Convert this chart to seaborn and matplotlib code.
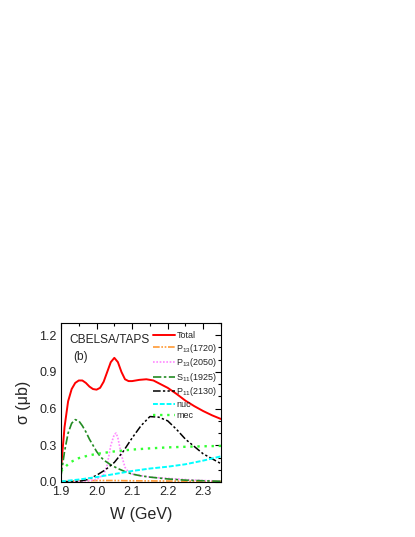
import numpy as np
import pandas as pd
import matplotlib
matplotlib.use("Agg")
import matplotlib.pyplot as plt
import seaborn as sns
from matplotlib.ticker import MultipleLocator

# ---------------------------------------
# Values
# ---------------------------------------

w_total = [1.900, 1.905, 1.910, 1.920, 1.930, 1.940, 1.950, 1.960, 1.970, 1.980,
           1.990, 2.000, 2.010, 2.020, 2.030, 2.040, 2.050, 2.060, 2.070, 2.080,
           2.090, 2.100, 2.120, 2.140, 2.160, 2.180, 2.200, 2.225, 2.250, 2.275,
           2.300, 2.325, 2.350]
sig_total = [0.10, 0.28, 0.45, 0.66, 0.76, 0.81, 0.83, 0.83, 0.81, 0.78,
             0.76, 0.755, 0.77, 0.82, 0.90, 0.98, 1.015, 0.98, 0.90, 0.84,
             0.825, 0.825, 0.835, 0.84, 0.83, 0.80, 0.77, 0.72, 0.665, 0.62,
             0.58, 0.545, 0.515]

w_p13a = [1.90, 1.95, 2.00, 2.05, 2.10, 2.20, 2.30, 2.35]
sig_p13a = [0.005, 0.010, 0.012, 0.012, 0.010, 0.008, 0.006, 0.005]

w_p13b = [1.900, 1.950, 1.975, 2.000, 2.020, 2.030, 2.040, 2.050, 2.055, 2.060,
          2.070, 2.080, 2.090, 2.100, 2.150, 2.200, 2.250, 2.300, 2.350]
sig_p13b = [0.0, 0.005, 0.01, 0.02, 0.06, 0.14, 0.30, 0.39, 0.40, 0.36,
            0.22, 0.12, 0.08, 0.065, 0.04, 0.03, 0.02, 0.012, 0.008]

w_s11 = [1.900, 1.910, 1.920, 1.930, 1.940, 1.950, 1.960, 1.970, 1.980, 1.990,
         2.000, 2.010, 2.020, 2.030, 2.040, 2.050, 2.060, 2.080, 2.100, 2.125,
         2.150, 2.200, 2.250, 2.300, 2.350]
sig_s11 = [0.05, 0.25, 0.40, 0.48, 0.51, 0.50, 0.46, 0.41, 0.35, 0.30,
           0.25, 0.21, 0.18, 0.16, 0.14, 0.125, 0.11, 0.085, 0.065, 0.05,
           0.04, 0.025, 0.015, 0.01, 0.006]

w_p11 = [1.900, 1.950, 1.975, 2.000, 2.025, 2.050, 2.075, 2.100, 2.125, 2.150,
         2.175, 2.200, 2.225, 2.250, 2.275, 2.300, 2.325, 2.350]
sig_p11 = [0.0, 0.005, 0.02, 0.055, 0.10, 0.16, 0.25, 0.36, 0.46, 0.535,
           0.53, 0.50, 0.43, 0.35, 0.29, 0.23, 0.19, 0.15]

w_nuc = [1.90, 1.95, 2.00, 2.05, 2.10, 2.15, 2.20, 2.25, 2.30, 2.35]
sig_nuc = [0.005, 0.02, 0.04, 0.065, 0.09, 0.11, 0.125, 0.145, 0.175, 0.21]

w_mec = [1.900, 1.925, 1.950, 1.975, 2.000, 2.050, 2.100, 2.150, 2.200, 2.250,
         2.300, 2.350]
sig_mec = [0.09, 0.16, 0.195, 0.215, 0.23, 0.25, 0.265, 0.275, 0.283, 0.288,
           0.292, 0.295]

# ---------------------------------------
# Plot
# ---------------------------------------

sns.set_style("white")
plt.rcParams["font.family"] = ["Liberation Sans", "DejaVu Sans"]
plt.rcParams["mathtext.fontset"] = "custom"
plt.rcParams["mathtext.rm"] = "Liberation Sans"

fig = plt.figure(figsize=(4.15, 5.37), dpi=100)
ax = fig.add_axes([61 / 415, 1 - 482 / 537, 160 / 415, 159 / 537])

series = [
    (w_total, sig_total, "Total", "#ff0000", "-", 1.4),
    (w_p13a, sig_p13a, "P$_{13}$(1720)", "#ff9933", (0, (4, 1, 1, 1, 1, 1)), 1.2),
    (w_p13b, sig_p13b, "P$_{13}$(2050)", "#ff88ff", (0, (1, 1)), 1.2),
    (w_s11, sig_s11, "S$_{11}$(1925)", "#228b22", (0, (5, 1.5, 1.5, 1.5)), 1.2),
    (w_p11, sig_p11, "P$_{11}$(2130)", "#000000", (0, (5, 1.5, 1.5, 1.5, 1.5, 1.5)), 1.1),
    (w_nuc, sig_nuc, "nuc", "#00ffff", (0, (2.5, 1)), 1.4),
    (w_mec, sig_mec, "mec", "#33ff33", (0, (1, 2)), 1.7),
]

for w, s, label, color, ls, lw in series:
    df = pd.DataFrame({"W": w, "sigma": s})
    sns.lineplot(data=df, x="W", y="sigma", ax=ax, color=color, label=label,
                 linestyle=ls, linewidth=lw)

ax.set_xlim(1.9, 2.35)
ax.set_ylim(0, 1.3)
ax.xaxis.set_major_locator(MultipleLocator(0.1))
ax.xaxis.set_minor_locator(MultipleLocator(0.05))
ax.yaxis.set_major_locator(MultipleLocator(0.3))
ax.yaxis.set_minor_locator(MultipleLocator(0.1))
ax.xaxis.set_major_formatter(matplotlib.ticker.FormatStrFormatter("%.1f"))
ax.yaxis.set_major_formatter(matplotlib.ticker.FormatStrFormatter("%.1f"))
ax.tick_params(which="both", direction="in", top=True, right=True,
               labelsize=9, color="black", pad=3)
ax.tick_params(which="major", length=4, width=0.8)
ax.tick_params(which="minor", length=2, width=0.8)
for sp in ax.spines.values():
    sp.set_color("black")
    sp.set_linewidth(0.8)

ax.set_xlabel("W (GeV)", fontsize=11.5, labelpad=6)
ax.set_ylabel("σ (μb)", fontsize=11.5, labelpad=6)

ax.text(0.05, 0.893, "CBELSA/TAPS", transform=ax.transAxes, fontsize=8.6,
        va="center", ha="left")
ax.text(0.075, 0.786, "(b)", transform=ax.transAxes, fontsize=8.6,
        va="center", ha="left")

ax.legend(loc="upper left", bbox_to_anchor=(0.575, 0.95), frameon=False,
          fontsize=6.5, handlelength=2.4, handletextpad=0.2,
          labelspacing=0.18, borderaxespad=0, borderpad=0)

fig.savefig("out.png", dpi=100)
